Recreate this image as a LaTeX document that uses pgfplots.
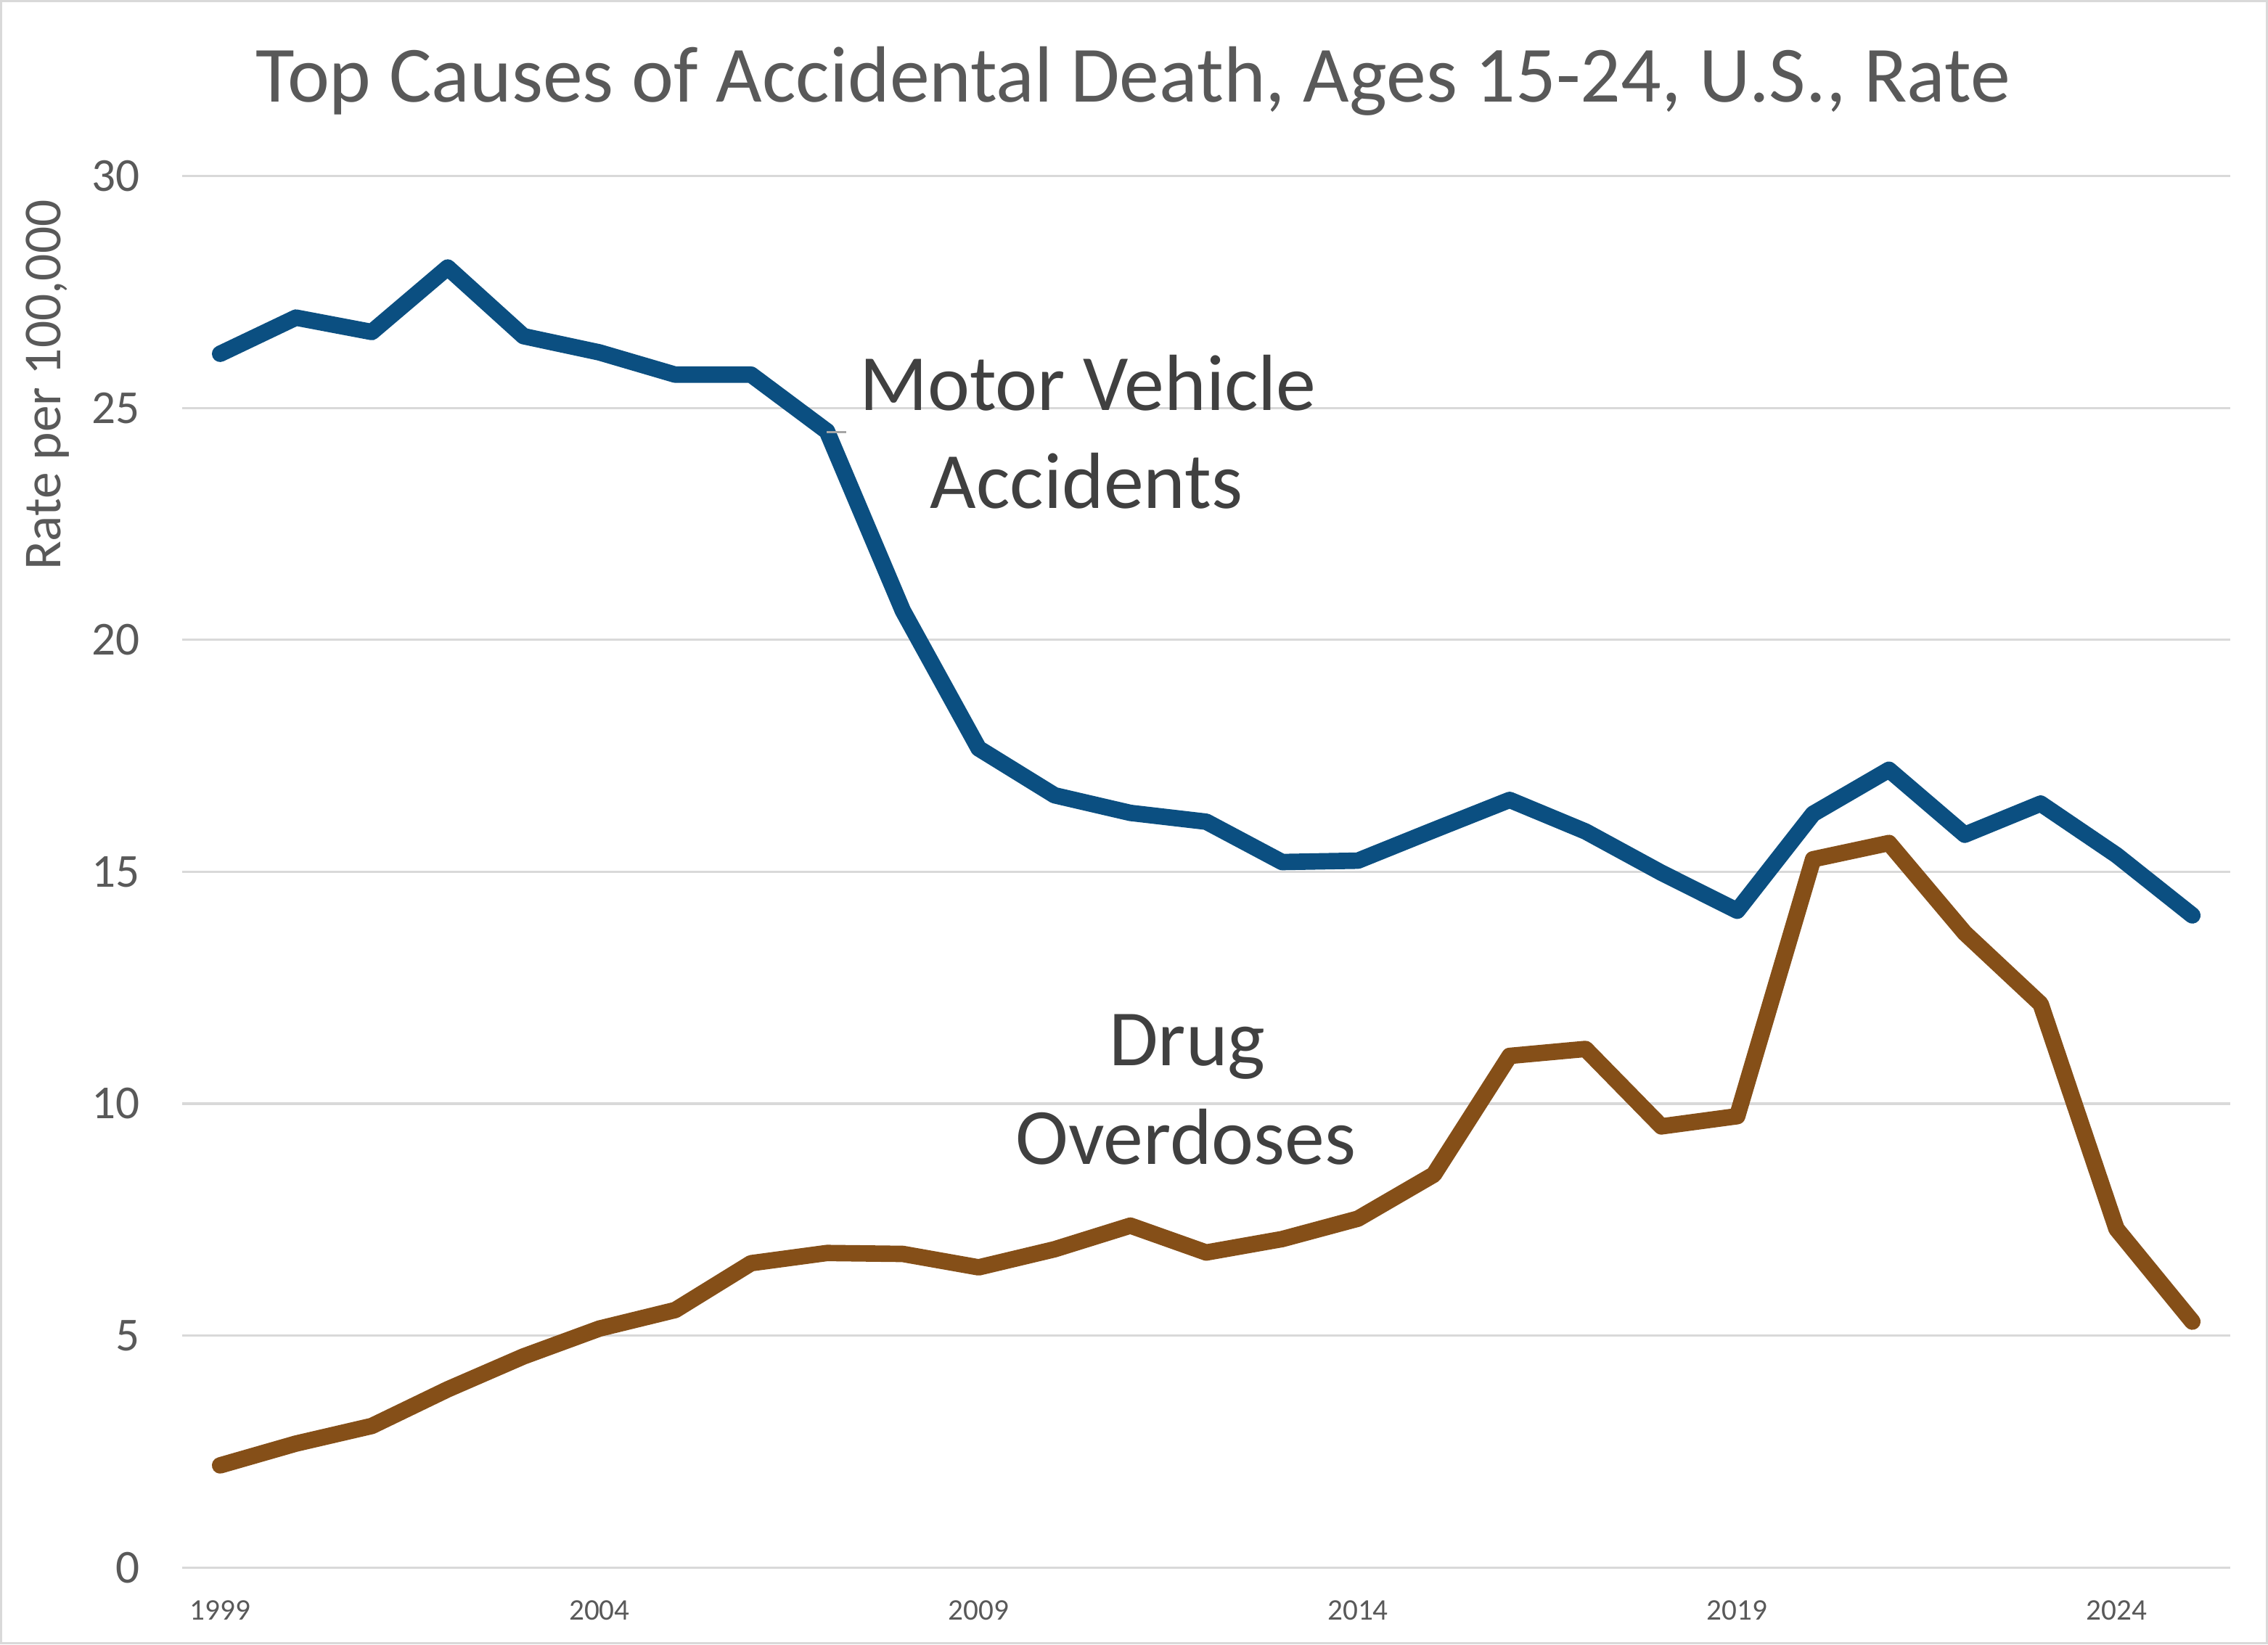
\documentclass[border=0pt]{standalone}
\usepackage{pgfplots}
\usepackage{pgfplotstable}
\pgfplotsset{compat=1.18}
\usepackage{fontspec}
\setmainfont{Carlito}
\definecolor{mvblue}{HTML}{0B4F81}
\definecolor{drugbrown}{HTML}{854F18}
\definecolor{titlegray}{HTML}{595959}
\definecolor{annot}{HTML}{404040}
\definecolor{gridgray}{HTML}{D9D9D9}
\definecolor{leader}{HTML}{A6A6A6}

\pgfplotstableread{
year mv drug
1999 26.17 2.20
2000 26.95 2.67
2001 26.64 3.05
2002 28.03 3.84
2003 26.55 4.55
2004 26.20 5.15
2005 25.72 5.55
2006 25.72 6.56
2007 24.50 6.78
2008 20.63 6.76
2009 17.66 6.47
2010 16.65 6.86
2011 16.27 7.37
2012 16.08 6.79
2013 15.21 7.08
2014 15.24 7.52
2015 15.90 8.47
2016 16.55 11.03
2017 15.87 11.18
2018 14.98 9.51
2019 14.16 9.73
2020 16.25 15.27
2021 17.20 15.62
2022 15.80 13.68
2023 16.47 12.15
2024 15.36 7.30
2025 14.06 5.30
}\datatable

\begin{document}
\begin{tikzpicture}
\useasboundingbox (0,0) rectangle (455.24pt,330.11pt);
\draw[gridgray, line width=0.5pt] (0.25pt,0.25pt) rectangle (454.99pt,329.86pt);
\node[anchor=base, text=titlegray, inner sep=0pt, font=\fontsize{16}{19}\selectfont] at (227.4pt,309.7pt) {Top Causes of Accidental Death, Ages 15-24, U.S., Rate};
\node[rotate=90, anchor=center, text=titlegray, inner sep=0pt, font=\fontsize{10.7}{12}\selectfont] at (9.6pt,252.8pt) {Rate per 100,000};
\begin{axis}[
  at={(36.57pt,15.44pt)}, anchor=south west,
  width=411.1pt, height=279.3pt, scale only axis,
  xmin=1998.5, xmax=2025.5, ymin=0, ymax=30,
  axis line style={draw=none},
  ytick={0,5,10,15,20,25,30},
  xtick={1999,2004,2009,2014,2019,2024},
  xticklabels={1999,2004,2009,2014,2019,2024},
  major tick length=0pt,
  ymajorgrids, grid style={gridgray, line width=0.45pt},
  /pgf/number format/assume math mode=true,
  xticklabel style={font=\fontsize{6}{7}\selectfont, text=titlegray, anchor=base, inner sep=0pt, yshift=-10.5pt},
  yticklabel style={font=\fontsize{9.5}{11}\selectfont, text=titlegray, anchor=east, inner sep=0pt, xshift=-8.3pt},
  clip=false,
]
\addplot[mvblue, line width=3.3pt, line join=round, line cap=round] table[x=year, y=mv] {\datatable};
\addplot[drugbrown, line width=3.3pt, line join=round, line cap=round] table[x=year, y=drug] {\datatable};
\draw[leader, line width=0.5pt] (axis cs:2007.0,24.48) -- (axis cs:2007.25,24.48);
\node[anchor=base, text=annot, inner sep=0pt, font=\fontsize{16}{19}\selectfont] at (axis cs:2010.44,24.95) {Motor Vehicle};
\node[anchor=base, text=annot, inner sep=0pt, font=\fontsize{16}{19}\selectfont] at (axis cs:2010.42,22.84) {Accidents};
\node[anchor=base, text=annot, inner sep=0pt, font=\fontsize{16}{19}\selectfont] at (axis cs:2011.75,10.82) {Drug};
\node[anchor=base, text=annot, inner sep=0pt, font=\fontsize{16}{19}\selectfont] at (axis cs:2011.73,8.70) {Overdoses};
\end{axis}
\end{tikzpicture}
\end{document}
